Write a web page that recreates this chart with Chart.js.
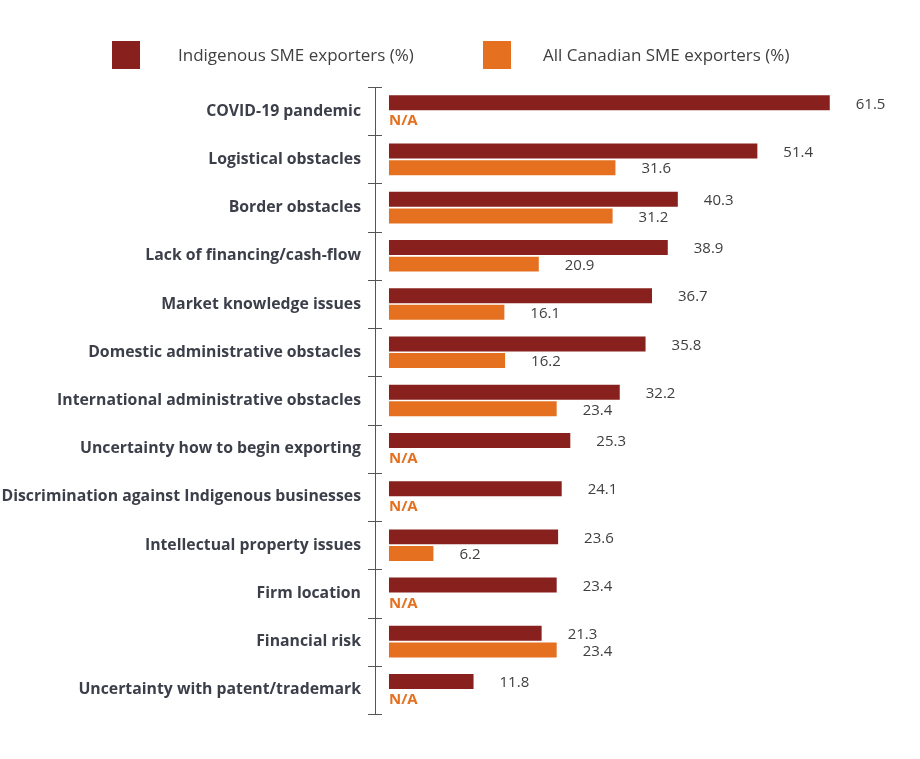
<!DOCTYPE html>
<html>
<head>
<meta charset="utf-8">
<script src="https://cdn.jsdelivr.net/npm/chart.js@4/dist/chart.umd.min.js"></script>
<style>
  html, body { margin: 0; padding: 0; background: #ffffff; }
  #wrap { position: relative; width: 920px; height: 759px; }
</style>
</head>
<body>
<div id="wrap"><canvas id="c" width="920" height="759"></canvas></div>
<script>
const categories = [
  "COVID-19 pandemic",
  "Logistical obstacles",
  "Border obstacles",
  "Lack of financing/cash-flow",
  "Market knowledge issues",
  "Domestic administrative obstacles",
  "International administrative obstacles",
  "Uncertainty how to begin exporting",
  "Discrimination against Indigenous businesses",
  "Intellectual property issues",
  "Firm location",
  "Financial risk",
  "Uncertainty with patent/trademark"
];
const indigenousValues = [61.5, 51.4, 40.3, 38.9, 36.7, 35.8, 32.2, 25.3, 24.1, 23.6, 23.4, 21.3, 11.8];
const allCanadianValues = [null, 31.6, 31.2, 20.9, 16.1, 16.2, 23.4, null, null, 6.2, null, 23.4, null];
const seriesNames = ["Indigenous SME exporters (%)", "All Canadian SME exporters (%)"];
const missingLabel = "N/A";

const DARK = "#88201D";
const ORANGE = "#E5701F";
const TEXT = "#3C3F4A";
const FONT = "'Open Sans', Lato, sans-serif";

const valueLabels = {
  id: "valueLabels",
  afterDatasetsDraw(chart) {
    const ctx = chart.ctx;
    const xs = chart.scales.x;
    ctx.save();
    ctx.textBaseline = "middle";
    ctx.textAlign = "left";
    chart.data.datasets.forEach((ds, di) => {
      const meta = chart.getDatasetMeta(di);
      meta.data.forEach((el, i) => {
        const v = ds.data[i];
        if (v === null || v === undefined) {
          ctx.font = "bold 15px " + FONT;
          ctx.fillStyle = ORANGE;
          ctx.fillText(missingLabel, xs.getPixelForValue(0), el.y + 1.5);
        } else {
          ctx.font = "15px " + FONT;
          ctx.fillStyle = "#404040";
          ctx.fillText(v.toFixed(1), el.x + 26, el.y + 1.5);
        }
      });
    });
    ctx.restore();
  }
};

const axisTicks = {
  id: "axisTicks",
  afterDraw(chart) {
    const ctx = chart.ctx;
    const ys = chart.scales.y;
    const x0 = chart.chartArea.left;
    ctx.save();
    ctx.strokeStyle = "#555555";
    ctx.lineWidth = 1;
    ctx.beginPath();
    for (let i = 0; i <= categories.length; i++) {
      const y = Math.round(ys.getPixelForValue(i - 0.5)) + 0.5;
      ctx.moveTo(x0 - 7, y);
      ctx.lineTo(x0 + 7, y);
    }
    ctx.stroke();
    ctx.restore();
  }
};

const customLegend = {
  id: "customLegend",
  afterDraw(chart) {
    const ctx = chart.ctx;
    const items = [
      { box: 112, text: 178, color: DARK },
      { box: 483, text: 543, color: ORANGE }
    ];
    ctx.save();
    ctx.font = "17px " + FONT;
    ctx.textBaseline = "middle";
    ctx.textAlign = "left";
    items.forEach((it, i) => {
      ctx.fillStyle = it.color;
      ctx.fillRect(it.box, 41, 28, 28);
      ctx.fillStyle = "#404040";
      ctx.fillText(seriesNames[i], it.text, 56);
    });
    ctx.restore();
  }
};

new Chart(document.getElementById("c"), {
  type: "bar",
  data: {
    labels: categories,
    datasets: [
      { label: seriesNames[0], data: indigenousValues, backgroundColor: DARK,
        barPercentage: 0.9, categoryPercentage: 0.69 },
      { label: seriesNames[1], data: allCanadianValues, backgroundColor: ORANGE,
        barPercentage: 0.9, categoryPercentage: 0.69 }
    ]
  },
  options: {
    indexAxis: "y",
    responsive: false,
    animation: false,
    layout: { padding: { top: 87, bottom: 45, left: 0, right: 15 } },
    plugins: { legend: { display: false }, tooltip: { enabled: false } },
    scales: {
      x: { display: false, min: -1.95, max: 72 },
      y: {
        afterFit(scale) { scale.width = 375; },
        grid: { display: false, drawTicks: false },
        border: { display: true, color: "#555555", width: 1 },
        ticks: {
          padding: 14,
          color: TEXT,
          font: { family: FONT, size: 15.8, weight: "bold" }
        }
      }
    }
  },
  plugins: [valueLabels, axisTicks, customLegend]
});
</script>
</body>
</html>
